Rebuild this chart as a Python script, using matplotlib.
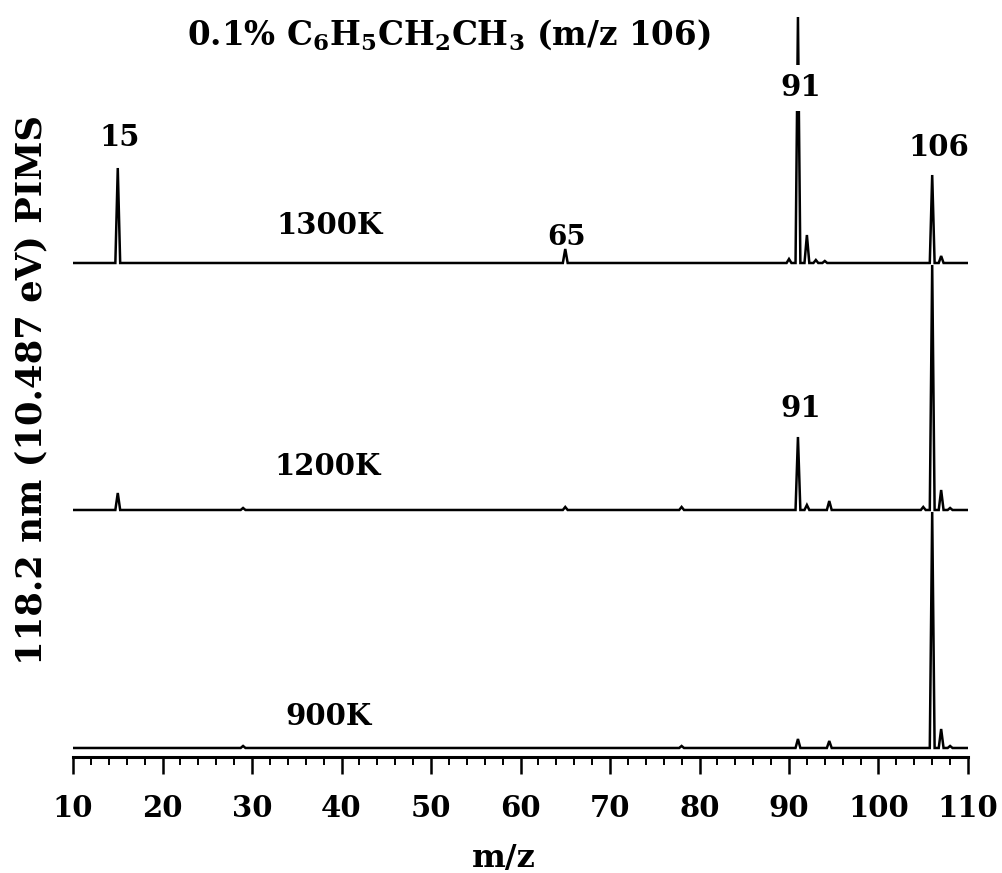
import numpy as np
import matplotlib
matplotlib.use("Agg")
import matplotlib.pyplot as plt
from matplotlib.ticker import MultipleLocator

plt.rcParams['font.family'] = 'DejaVu Serif'
plt.rcParams['font.weight'] = 'bold'
plt.rcParams['mathtext.default'] = 'regular'

# peak lists (m/z, intensity) for each temperature, intensity in plot units
mz_1300 = [15, 65, 90, 91, 92, 93, 94, 106, 107]
int_1300 = [95, 14, 4, 246, 28, 3, 2, 88, 7]

mz_1200 = [15, 29, 65, 78, 91, 92, 94.5, 105, 106, 107, 108]
int_1200 = [17, 2, 3, 3, 73, 5, 9, 3, 245, 20, 2]

mz_900 = [29, 78, 91, 94.5, 106, 107, 108]
int_900 = [2, 2, 9, 7, 236, 19, 2]

temps = ['1300K', '1200K', '900K']
offsets = [494, 247, 9]


def stick_trace(mz, inten, w=0.27):
    # each peak drawn as a narrow triangle on a flat baseline
    xs, ys = [10.0], [0.0]
    for m, h in sorted(zip(mz, inten)):
        xs += [m - w, m, m + w]
        ys += [0.0, h, 0.0]
    xs.append(110.0)
    ys.append(0.0)
    return np.array(xs), np.array(ys)


fig = plt.figure(figsize=(10.03, 8.73), dpi=100)
ax = fig.add_axes([0.0728, 0.1329, 0.8923, 0.8671])

spectra = [(mz_1300, int_1300), (mz_1200, int_1200), (mz_900, int_900)]
for (mz, inten), off in zip(spectra, offsets):
    x, y = stick_trace(mz, inten)
    ax.plot(x, y + off, color='black', lw=1.8, solid_joinstyle='miter')

ax.set_xlim(10, 110)
ax.set_ylim(0, 757)
for s in ['top', 'left', 'right']:
    ax.spines[s].set_visible(False)
ax.spines['bottom'].set_linewidth(2.2)
ax.set_yticks([])
ax.xaxis.set_major_locator(MultipleLocator(10))
ax.xaxis.set_minor_locator(MultipleLocator(2))
ax.tick_params(axis='x', which='major', direction='out', length=12, width=1.8,
               labelsize=21, pad=15)
ax.tick_params(axis='x', which='minor', direction='out', length=6, width=1.4)

fig.text(0.502, 1 - 858 / 873, 'm/z', fontsize=23, ha='center', va='center')

# temperature labels
ax.text(38.7, offsets[0] + 37, temps[0], fontsize=21, ha='center', va='center')
ax.text(38.4, offsets[1] + 43, temps[1], fontsize=21, ha='center', va='center')
ax.text(38.5, offsets[2] + 31, temps[2], fontsize=21, ha='center', va='center')

# peak labels
ax.text(15.2, 619, '15', fontsize=21, ha='center', va='center')
ax.text(65.2, 519, '65', fontsize=20, ha='center', va='center')
ax.text(91.3, 669, '91', fontsize=21, ha='center', va='center',
        bbox=dict(facecolor='white', edgecolor='none', pad=6))
ax.text(106.8, 609, '106', fontsize=21, ha='center', va='center')
ax.text(91.3, 348, '91', fontsize=21, ha='center', va='center')

fig.text(0.447, 0.9605, r'0.1% C$_6$H$_5$CH$_2$CH$_3$ (m/z 106)', fontsize=23.5,
         ha='center', va='center')
fig.text(0.031, 1 - 390 / 873, '118.2 nm (10.487 eV) PIMS', fontsize=25.5,
         rotation=90, ha='center', va='center')

fig.savefig('out.png', dpi=100, facecolor='white')
